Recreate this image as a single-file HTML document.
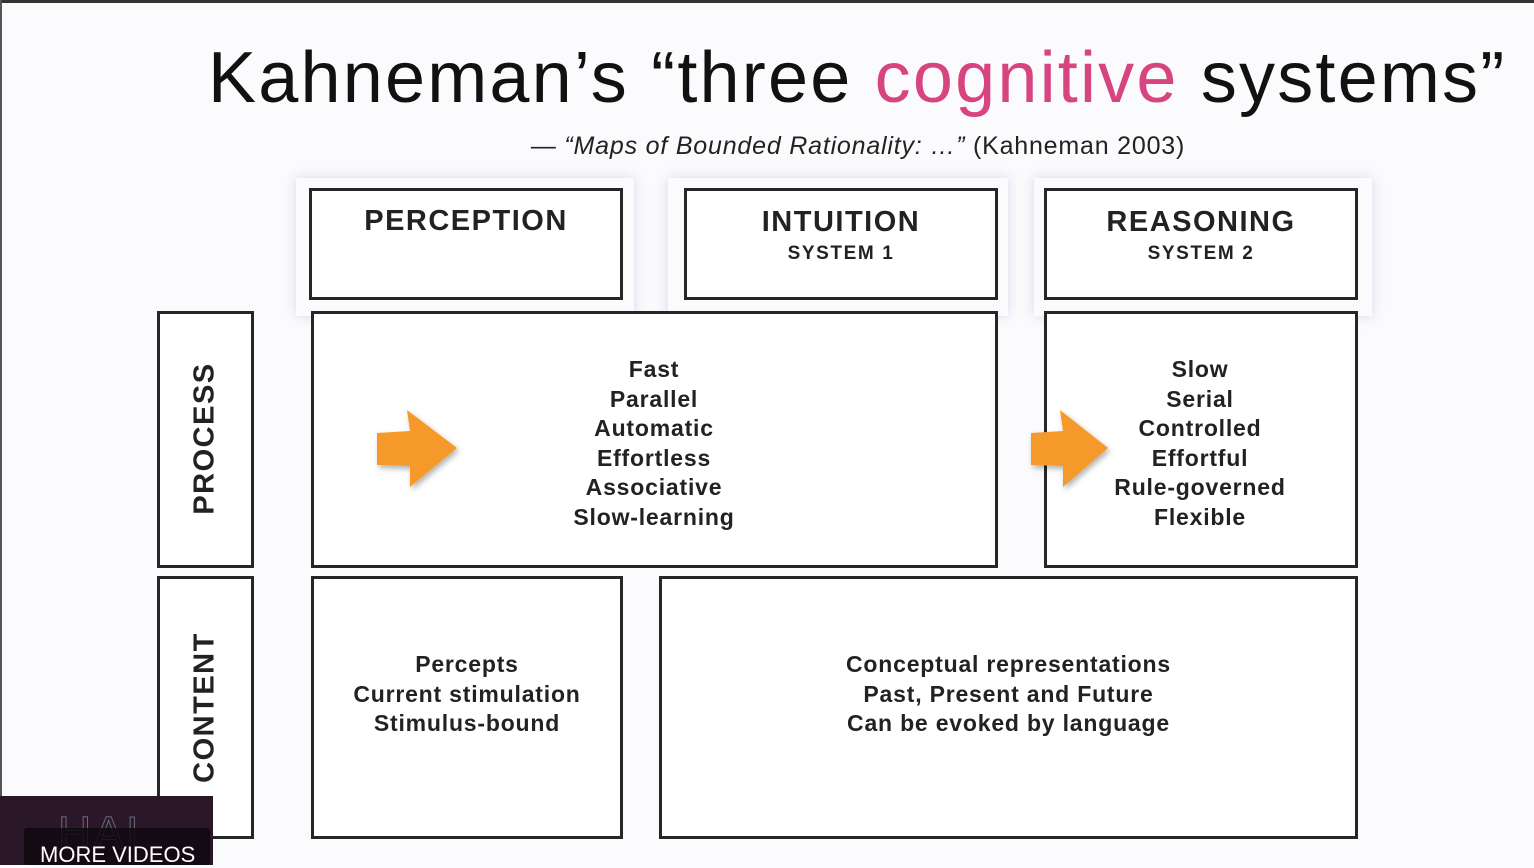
<!DOCTYPE html>
<html><head><meta charset="utf-8"><style>
html,body{margin:0;padding:0}
body{width:1534px;height:865px;position:relative;background:#fbfbfd;overflow:hidden;font-family:"Liberation Sans",sans-serif;color:#222}
.b{position:absolute;border:3px solid #262626;box-sizing:border-box;background:#fff}
.t{position:absolute;text-align:center;font-weight:bold;font-size:23px;line-height:29.5px;color:#222;letter-spacing:0.8px}
.h{position:absolute;text-align:center;font-weight:bold;font-size:29px;color:#222;left:0;right:0;letter-spacing:1.5px}
.s{position:absolute;text-align:center;font-weight:bold;font-size:19px;color:#222;left:0;right:0;letter-spacing:1.6px}
.v{position:absolute;transform:rotate(-90deg);font-weight:bold;font-size:29px;white-space:nowrap;transform-origin:center;letter-spacing:1.5px}
.glow{position:absolute;box-shadow:0 0 12px rgba(150,150,200,.35)}
</style></head><body>
<div style="position:absolute;left:0;top:0;width:1534px;height:3px;background:#333"></div>
<div style="position:absolute;left:0;top:0;width:2px;height:865px;background:#555"></div>
<div style="position:absolute;left:208px;top:37px;font-size:72px;white-space:nowrap;color:#111;letter-spacing:2.2px">Kahneman’s “three <span style="color:#d6457f">cognitive</span> systems”</div>
<div style="position:absolute;left:0;width:1716px;top:132px;text-align:center;font-size:25px;color:#222;letter-spacing:0.8px">— <i>“Maps of Bounded Rationality: …”</i> (Kahneman 2003)</div>

<div class="glow" style="left:296px;top:178px;width:338px;height:138px"></div>
<div class="glow" style="left:668px;top:178px;width:340px;height:138px"></div>
<div class="glow" style="left:1034px;top:178px;width:338px;height:138px"></div>

<div class="b" style="left:309px;top:188px;width:314px;height:112px"><div class="h" style="top:14px">PERCEPTION</div></div>
<div class="b" style="left:684px;top:188px;width:314px;height:112px"><div class="h" style="top:15px">INTUITION</div><div class="s" style="top:52px">SYSTEM 1</div></div>
<div class="b" style="left:1044px;top:188px;width:314px;height:112px"><div class="h" style="top:15px">REASONING</div><div class="s" style="top:52px">SYSTEM 2</div></div>

<div class="b" style="left:157px;top:311px;width:97px;height:257px"><div class="v" style="left:-40px;top:108px;width:170px;text-align:center">PROCESS</div></div>
<div class="b" style="left:157px;top:576px;width:97px;height:263px"><div class="v" style="left:-40px;top:112px;width:170px;text-align:center">CONTENT</div></div>

<div class="b" style="left:311px;top:311px;width:687px;height:257px"></div>
<div class="t" style="left:454px;width:400px;top:355px">Fast<br>Parallel<br>Automatic<br>Effortless<br>Associative<br>Slow-learning</div>
<div class="b" style="left:1044px;top:311px;width:314px;height:257px"></div>
<div class="t" style="left:1000px;width:400px;top:355px">Slow<br>Serial<br>Controlled<br>Effortful<br>Rule-governed<br>Flexible</div>

<div class="b" style="left:311px;top:576px;width:312px;height:263px"></div>
<div class="t" style="left:311px;width:312px;top:650px">Percepts<br>Current stimulation<br>Stimulus-bound</div>
<div class="b" style="left:659px;top:576px;width:699px;height:263px"></div>
<div class="t" style="left:659px;width:699px;top:650px">Conceptual representations<br>Past, Present and Future<br>Can be evoked by language</div>

<svg style="position:absolute;left:0;top:0" width="1534" height="865">
<defs><filter id="f"><feDropShadow dx="2" dy="3" stdDeviation="3" flood-opacity=".3"/></filter></defs>
<polygon filter="url(#f)" fill="#f59a2c" points="377,433 410,431 407,410 457,448 410,487 410,466 377,465"/>
<polygon filter="url(#f)" fill="#f59a2c" points="1031,433 1063,431 1060,410 1108,448 1063,487 1063,466 1031,465"/>
</svg>

<div style="position:absolute;left:0;top:796px;width:213px;height:69px;background:#2a1828"></div>
<div style="position:absolute;left:58px;top:806px;font-size:46px;color:transparent;-webkit-text-stroke:1px #6a6a80;letter-spacing:2px">HAI</div>
<div style="position:absolute;left:24px;top:828px;width:186px;height:37px;background:rgba(15,8,15,.85);border-radius:3px"></div>
<div style="position:absolute;left:40px;top:842px;font-size:22px;color:#fff">MORE VIDEOS</div>
</body></html>
